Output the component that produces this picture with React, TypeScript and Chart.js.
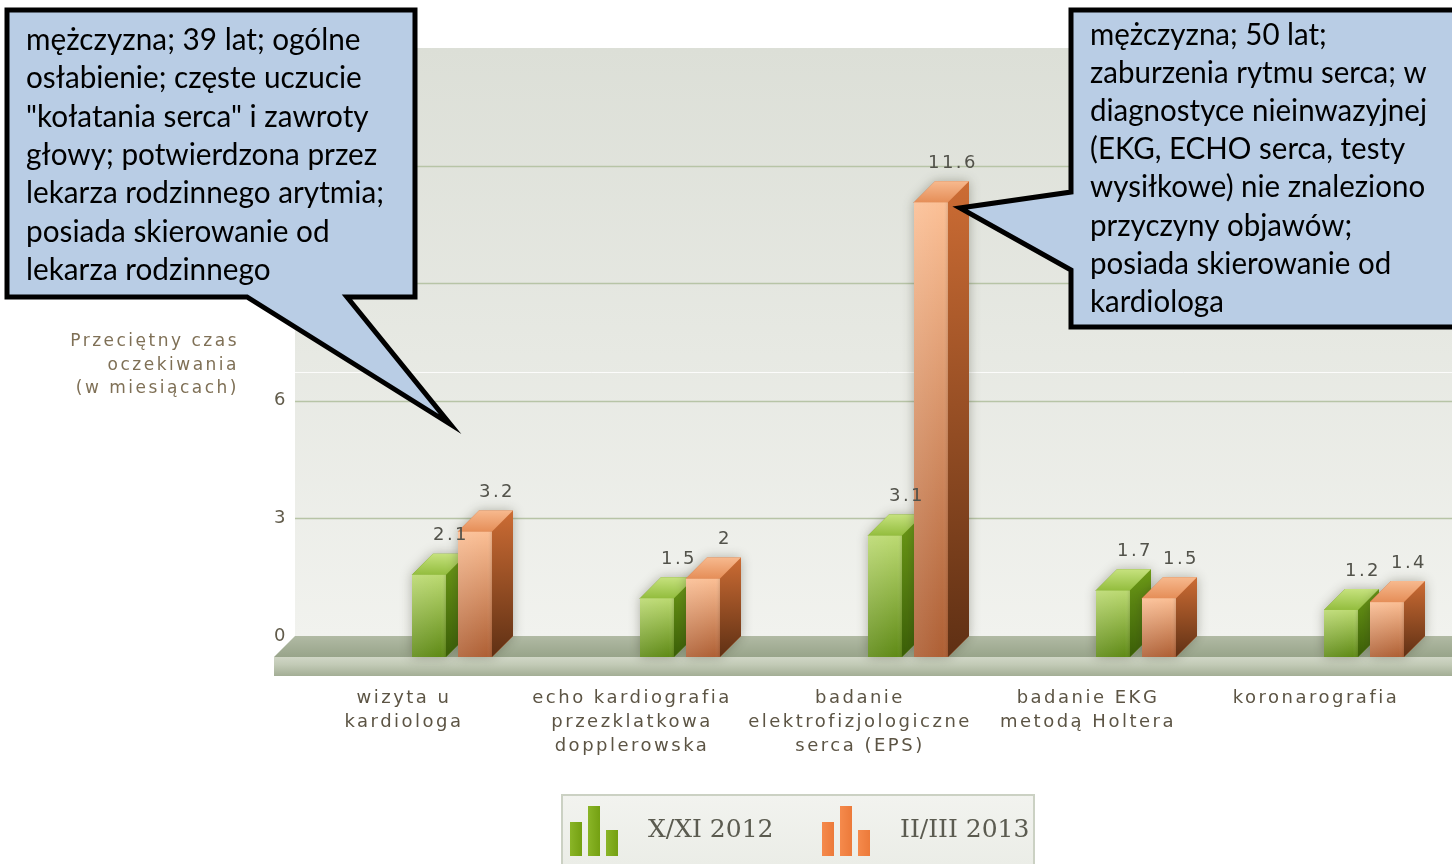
import React, { useEffect, useRef } from "react";
import { Chart, registerables } from "chart.js";

Chart.register(...registerables);

// ---------------- data ----------------
const categories: string[][] = [
  ["wizyta u", "kardiologa"],
  ["echo kardiografia", "przezklatkowa", "dopplerowska"],
  ["badanie", "elektrofizjologiczne", "serca (EPS)"],
  ["badanie EKG", "metodą Holtera"],
  ["koronarografia"],
];
const seriesLabels = ["X/XI 2012", "II/III 2013"];
const values2012 = [2.1, 1.5, 3.1, 1.7, 1.2];
const values2013 = [3.2, 2, 11.6, 1.5, 1.4];
const yMin = 0;
const yMax = 15;
const yStep = 3;
const yAxisTitle = ["Przeciętny czas", "oczekiwania", "(w miesiącach)"];
const calloutLeftLines = [
  "mężczyzna; 39 lat; ogólne",
  "osłabienie; częste uczucie",
  "\"kołatania serca\" i zawroty",
  "głowy; potwierdzona przez",
  "lekarza rodzinnego arytmia;",
  "posiada skierowanie od",
  "lekarza rodzinnego",
];
const calloutRightLines = [
  "mężczyzna; 50 lat;",
  "zaburzenia rytmu serca; w",
  "diagnostyce nieinwazyjnej",
  "(EKG, ECHO serca, testy",
  "wysiłkowe) nie znaleziono",
  "przyczyny objawów;",
  "posiada skierowanie od",
  "kardiologa",
];

// ---------------- styles ----------------
const legendColors = ["#8ab527", "#f58a4c"];
const palettes = [
  {
    frontTop: "#bcda72", frontBot: "#5f8a16",
    sideTop: "#6c9a16", sideBot: "#3a5e06",
    topBack: "#c6e27e", topFront: "#93bd3e",
  },
  {
    frontTop: "#fbbf95", frontBot: "#ae5f34",
    sideTop: "#cc6c34", sideBot: "#5f3014",
    topBack: "#f7b98e", topFront: "#e58e58",
  },
];
const DEPTH = 21;
const SPACED = "2.5px";

function drawBox(ctx: CanvasRenderingContext2D, xl: number, xr: number, yt: number, yb: number, pal: any) {
  const D = DEPTH;
  const ft = yt + D;
  const fb = yb + D;
  ctx.save();
  ctx.shadowColor = "rgba(50,50,30,0.35)";
  ctx.shadowBlur = 12;
  ctx.beginPath();
  ctx.moveTo(xl, fb);
  ctx.lineTo(xl, ft);
  ctx.lineTo(xl + D, yt);
  ctx.lineTo(xr + D, yt);
  ctx.lineTo(xr + D, yb);
  ctx.lineTo(xr, fb);
  ctx.closePath();
  ctx.fillStyle = pal.sideTop;
  ctx.fill();
  ctx.restore();

  const gs = ctx.createLinearGradient(0, yt, 0, fb);
  gs.addColorStop(0, pal.sideTop);
  gs.addColorStop(1, pal.sideBot);
  ctx.beginPath();
  ctx.moveTo(xr, ft);
  ctx.lineTo(xr + D, yt);
  ctx.lineTo(xr + D, yb);
  ctx.lineTo(xr, fb);
  ctx.closePath();
  ctx.fillStyle = gs;
  ctx.fill();

  const gt = ctx.createLinearGradient(0, yt, 0, ft);
  gt.addColorStop(0, pal.topBack);
  gt.addColorStop(1, pal.topFront);
  ctx.beginPath();
  ctx.moveTo(xl, ft);
  ctx.lineTo(xl + D, yt);
  ctx.lineTo(xr + D, yt);
  ctx.lineTo(xr, ft);
  ctx.closePath();
  ctx.fillStyle = gt;
  ctx.fill();

  const gf = ctx.createLinearGradient(0, ft, 0, fb);
  gf.addColorStop(0, pal.frontTop);
  gf.addColorStop(1, pal.frontBot);
  ctx.fillStyle = gf;
  ctx.fillRect(xl, ft, xr - xl, fb - ft);
  const gh = ctx.createLinearGradient(xl, 0, xr, 0);
  gh.addColorStop(0, "rgba(255,255,255,0.10)");
  gh.addColorStop(0.85, "rgba(255,255,255,0)");
  gh.addColorStop(1, "rgba(0,0,0,0.10)");
  ctx.fillStyle = gh;
  ctx.fillRect(xl, ft, xr - xl, fb - ft);
}

function drawCallout(ctx: CanvasRenderingContext2D, pts: number[][], lines: string[], tx: number, ty: number, lh: number, targetW: number) {
  ctx.save();
  ctx.beginPath();
  pts.forEach((p, i) => (i === 0 ? ctx.moveTo(p[0], p[1]) : ctx.lineTo(p[0], p[1])));
  ctx.closePath();
  ctx.fillStyle = "#b9cde5";
  ctx.fill();
  ctx.lineWidth = 5;
  ctx.lineJoin = "miter";
  ctx.strokeStyle = "#000";
  ctx.stroke();
  ctx.font = '30px Lato, "Open Sans", sans-serif';
  (ctx as any).letterSpacing = "0px";
  let maxW = 0;
  lines.forEach((l) => (maxW = Math.max(maxW, ctx.measureText(l).width)));
  const sx = targetW / maxW;
  ctx.fillStyle = "#000";
  ctx.textAlign = "left";
  ctx.textBaseline = "alphabetic";
  lines.forEach((l, i) => {
    ctx.save();
    ctx.translate(tx, ty + i * lh);
    ctx.scale(sx, 1);
    ctx.fillText(l, 0, 0);
    ctx.restore();
  });
  ctx.restore();
}

const decor = {
  id: "decor3d",
  beforeDraw(chart: any) {
    const { ctx, chartArea: ca } = chart;
    const ys = chart.scales.y;
    const W = chart.width;
    const wallL = ca.left - 43;
    const y0 = ys.getPixelForValue(yMin);
    ctx.save();
    const g = ctx.createLinearGradient(0, ca.top, 0, y0);
    g.addColorStop(0, "#dcdfd7");
    g.addColorStop(1, "#f1f2ee");
    ctx.fillStyle = g;
    ctx.fillRect(wallL, ca.top, W - wallL, y0 - ca.top);
    ctx.strokeStyle = "#b7c4a6";
    ctx.lineWidth = 1.5;
    ys.ticks.forEach((t: any) => {
      if (t.value <= yMin || t.value >= yMax) return;
      const py = Math.round(ys.getPixelForValue(t.value)) + 0.5;
      ctx.beginPath();
      ctx.moveTo(wallL, py);
      ctx.lineTo(W, py);
      ctx.stroke();
    });
    ctx.strokeStyle = "rgba(255,255,255,0.85)";
    ctx.lineWidth = 1;
    ctx.beginPath();
    ctx.moveTo(wallL, 372.5);
    ctx.lineTo(W, 372.5);
    ctx.stroke();
    const gft = ctx.createLinearGradient(0, y0, 0, y0 + DEPTH);
    gft.addColorStop(0, "#b1baa4");
    gft.addColorStop(1, "#98a48a");
    ctx.beginPath();
    ctx.moveTo(wallL, y0);
    ctx.lineTo(W, y0);
    ctx.lineTo(W, y0 + DEPTH);
    ctx.lineTo(wallL - DEPTH, y0 + DEPTH);
    ctx.closePath();
    ctx.fillStyle = gft;
    ctx.fill();
    const gff = ctx.createLinearGradient(0, y0 + DEPTH, 0, y0 + DEPTH + 19);
    gff.addColorStop(0, "#d0d6c6");
    gff.addColorStop(0.4, "#c2cab6");
    gff.addColorStop(1, "#a3ae95");
    ctx.fillStyle = gff;
    ctx.fillRect(wallL - DEPTH, y0 + DEPTH, W - wallL + DEPTH, 19);
    ctx.restore();
    (ctx as any).letterSpacing = SPACED;
  },
  afterDatasetsDraw(chart: any) {
    const { ctx } = chart;
    const n = chart.data.labels.length;
    ctx.save();
    for (let i = 0; i < n; i++) {
      chart.data.datasets.forEach((ds: any, d: number) => {
        const el = chart.getDatasetMeta(d).data[i];
        const p = el.getProps(["x", "y", "base", "width"], true);
        drawBox(ctx, p.x - p.width / 2, p.x + p.width / 2, p.y, p.base, palettes[d]);
      });
    }
    (ctx as any).letterSpacing = SPACED;
    ctx.font = '18px "DejaVu Sans"';
    ctx.fillStyle = "#52524a";
    ctx.textAlign = "center";
    ctx.textBaseline = "middle";
    chart.data.datasets.forEach((ds: any, d: number) => {
      chart.getDatasetMeta(d).data.forEach((el: any, i: number) => {
        const p = el.getProps(["x", "y"], true);
        ctx.fillText(String(ds.data[i]), p.x + 22, p.y - 18);
      });
    });
    ctx.restore();
  },
  afterDraw(chart: any) {
    const { ctx } = chart;
    ctx.save();
    (ctx as any).letterSpacing = SPACED;
    ctx.font = '17px "DejaVu Sans"';
    ctx.fillStyle = "#7f7056";
    ctx.textAlign = "right";
    ctx.textBaseline = "middle";
    yAxisTitle.forEach((t, i) => ctx.fillText(t, 239, 342 + i * 23.5));

    (ctx as any).letterSpacing = "0px";
    const lgX = 562, lgY = 795, lgW = 472;
    const lg = ctx.createLinearGradient(0, lgY, 0, lgY + 70);
    lg.addColorStop(0, "#f2f3ef");
    lg.addColorStop(1, "#ebede7");
    ctx.fillStyle = lg;
    ctx.fillRect(lgX, lgY, lgW, 80);
    ctx.strokeStyle = "#cbd1c3";
    ctx.lineWidth = 2;
    ctx.strokeRect(lgX, lgY, lgW, 90);
    chart.data.datasets.forEach((ds: any, d: number) => {
      const ix = lgX + 8 + d * 252;
      const bottom = 856;
      const bars = [
        [0, 34],
        [18, 50],
        [36, 26],
      ];
      bars.forEach(([off, h]) => {
        const gx = ctx.createLinearGradient(ix + off, 0, ix + off + 12, 0);
        gx.addColorStop(0, legendColors[d]);
        gx.addColorStop(1, d === 0 ? "#74a012" : "#ec7a3a");
        ctx.fillStyle = gx;
        ctx.fillRect(ix + off, bottom - h, 12, h);
      });
      ctx.font = '25px "DejaVu Serif", serif';
      ctx.fillStyle = "#5b5b50";
      ctx.textAlign = "left";
      ctx.textBaseline = "middle";
      ctx.fillText(ds.label, ix + 78, 830);
    });

    drawCallout(
      ctx,
      [[7, 10], [415, 10], [415, 297], [347, 297], [450, 424], [247, 297], [7, 297]],
      calloutLeftLines, 26, 50, 38.3, 358
    );
    drawCallout(
      ctx,
      [[1071, 10], [1475, 10], [1475, 327], [1071, 327], [1071, 270], [960, 208], [1071, 192]],
      calloutRightLines, 1090, 45, 38.1, 337
    );
    ctx.restore();
  },
};

export default function App() {
  const ref = useRef<HTMLCanvasElement | null>(null);
  useEffect(() => {
    if (!ref.current) return;
    const chart = new Chart(ref.current, {
      type: "bar",
      data: {
        labels: categories as any,
        datasets: [
          {
            label: seriesLabels[0],
            data: values2012,
            backgroundColor: "rgba(0,0,0,0)",
            borderWidth: 0,
            categoryPercentage: 0.4035,
            barPercentage: 0.739,
          },
          {
            label: seriesLabels[1],
            data: values2013,
            backgroundColor: "rgba(0,0,0,0)",
            borderWidth: 0,
            categoryPercentage: 0.4035,
            barPercentage: 0.739,
          },
        ],
      },
      options: {
        animation: false,
        responsive: false,
        maintainAspectRatio: false,
        devicePixelRatio: 1,
        layout: { padding: { top: 48, right: 2, left: 0, bottom: 0 } },
        plugins: { legend: { display: false }, tooltip: { enabled: false } },
        scales: {
          x: {
            grid: { display: false, drawTicks: false },
            border: { display: false },
            afterFit: (s: any) => {
              s.height = 228;
              s.paddingLeft = 0;
              s.paddingRight = 0;
            },
            ticks: {
              autoSkip: false,
              maxRotation: 0,
              minRotation: 0,
              labelOffset: -48,
              padding: 50,
              color: "#5c5444",
              font: { family: "DejaVu Sans", size: 18, lineHeight: 1.333 },
            },
          },
          y: {
            min: yMin,
            max: yMax,
            grid: { display: false, drawTicks: false },
            border: { display: false },
            afterFit: (s: any) => {
              s.width = 338;
              s.paddingTop = 0;
              s.paddingBottom = 0;
            },
            ticks: {
              stepSize: yStep,
              padding: 50,
              color: "#615b4a",
              font: { family: "DejaVu Sans", size: 18 },
            },
          },
        },
      },
      plugins: [decor],
    });
    return () => chart.destroy();
  }, []);
  return (
    <div
      style={{
        position: "fixed",
        left: 0,
        top: 0,
        width: 1452,
        height: 864,
        overflow: "hidden",
        background: "#fff",
      }}
    >
      <canvas ref={ref} width={1480} height={864} style={{ display: "block", width: 1480, height: 864 }} />
    </div>
  );
}
